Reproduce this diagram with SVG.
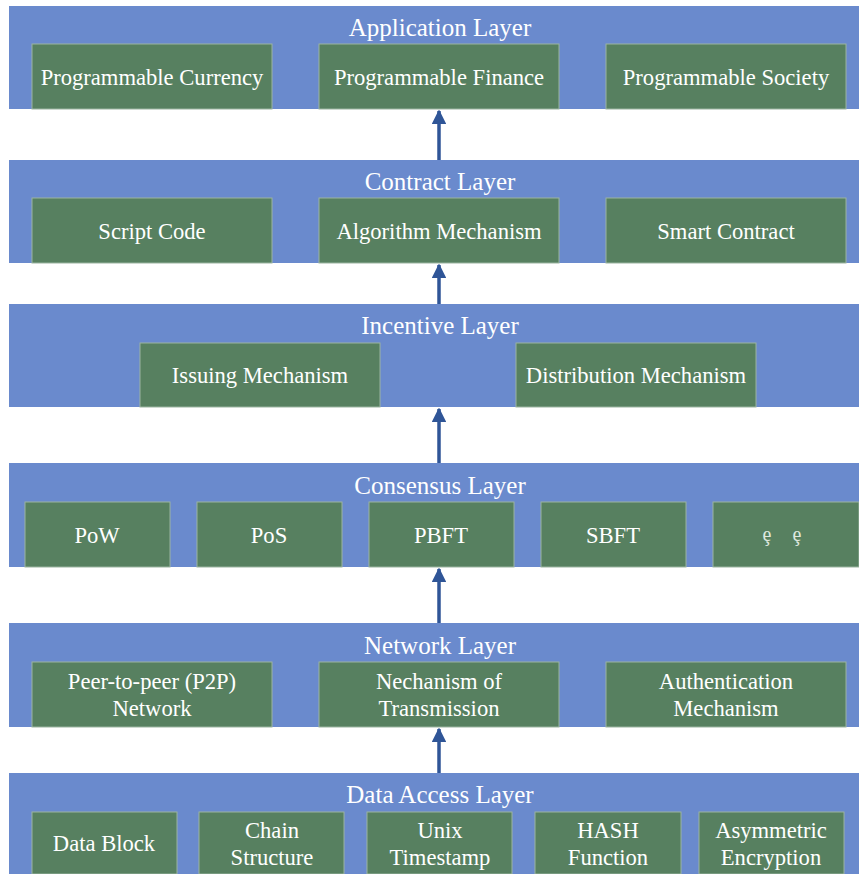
<svg xmlns="http://www.w3.org/2000/svg" width="859" height="874" viewBox="0 0 859 874">
<defs>
<style>
.layer{fill:#6a8acd;}
.box{fill:#578060;stroke:#9bb4a0;stroke-width:1;}
.title{font-size:25px;fill:#ffffff;text-anchor:middle;}
.t{font-size:22.6px;fill:#ffffff;text-anchor:middle;}
.etc{font-size:20px;fill:#dfe8df;text-anchor:middle;}
.conn{stroke:#2f5597;stroke-width:3.5;fill:none;}
</style>
<marker id="ah" viewBox="0 0 10 10" refX="9" refY="5" markerWidth="4.2" markerHeight="4.2" markerUnits="strokeWidth" orient="auto">
<path d="M0,0 L10,5 L0,10 z" fill="#2f5597"/>
</marker>
</defs>
<rect width="859" height="874" fill="#ffffff"/>
<g font-family="Liberation Serif, Times New Roman, serif">

<g id="application-layer">
<rect class="layer" x="9" y="6" width="850" height="103"/>
<text class="title" x="440" y="36">Application Layer</text>
<g id="programmable-currency"><rect class="box" x="32" y="44" width="240" height="65"/><text class="t" x="152" y="85">Programmable Currency</text></g>
<g id="programmable-finance"><rect class="box" x="319" y="44" width="240" height="65"/><text class="t" x="439" y="85">Programmable Finance</text></g>
<g id="programmable-society"><rect class="box" x="606" y="44" width="240" height="65"/><text class="t" x="726" y="85">Programmable Society</text></g>
</g>

<g id="contract-layer">
<rect class="layer" x="9" y="160" width="850" height="103"/>
<text class="title" x="440" y="190">Contract Layer</text>
<g id="script-code"><rect class="box" x="32" y="198" width="240" height="65"/><text class="t" x="152" y="239">Script Code</text></g>
<g id="algorithm-mechanism"><rect class="box" x="319" y="198" width="240" height="65"/><text class="t" x="439" y="239">Algorithm Mechanism</text></g>
<g id="smart-contract"><rect class="box" x="606" y="198" width="240" height="65"/><text class="t" x="726" y="239">Smart Contract</text></g>
</g>

<g id="incentive-layer">
<rect class="layer" x="9" y="304" width="850" height="103"/>
<text class="title" x="440" y="334">Incentive Layer</text>
<g id="issuing-mechanism"><rect class="box" x="140" y="343" width="240" height="64"/><text class="t" x="260" y="383">Issuing Mechanism</text></g>
<g id="distribution-mechanism"><rect class="box" x="516" y="343" width="240" height="64"/><text class="t" x="636" y="383">Distribution Mechanism</text></g>
</g>

<g id="consensus-layer">
<rect class="layer" x="9" y="463" width="850" height="104"/>
<text class="title" x="440" y="494">Consensus Layer</text>
<g id="pow"><rect class="box" x="25" y="502" width="145" height="65"/><text class="t" x="97" y="543">PoW</text></g>
<g id="pos"><rect class="box" x="197" y="502" width="145" height="65"/><text class="t" x="269" y="543">PoS</text></g>
<g id="pbft"><rect class="box" x="369" y="502" width="145" height="65"/><text class="t" x="441" y="543">PBFT</text></g>
<g id="sbft"><rect class="box" x="541" y="502" width="145" height="65"/><text class="t" x="613" y="543">SBFT</text></g>
<g id="etc"><rect class="box" x="713" y="502" width="146" height="65"/><text class="etc" y="541"><tspan x="767">ȩ</tspan><tspan x="797">ȩ</tspan></text></g>
</g>

<g id="network-layer">
<rect class="layer" x="9" y="623" width="850" height="104"/>
<text class="title" x="440" y="654">Network Layer</text>
<g id="p2p-network"><rect class="box" x="32" y="662" width="240" height="65"/><text class="t" x="152" y="689">Peer-to-peer (P2P)</text><text class="t" x="152" y="716">Network</text></g>
<g id="transmission"><rect class="box" x="319" y="662" width="240" height="65"/><text class="t" x="439" y="689">Nechanism of</text><text class="t" x="439" y="716">Transmission</text></g>
<g id="authentication"><rect class="box" x="606" y="662" width="240" height="65"/><text class="t" x="726" y="689">Authentication</text><text class="t" x="726" y="716">Mechanism</text></g>
</g>

<g id="data-access-layer">
<rect class="layer" x="9" y="773" width="850" height="101"/>
<text class="title" x="440" y="803">Data Access Layer</text>
<g id="data-block"><rect class="box" x="32" y="812" width="145" height="62"/><text class="t" x="104" y="851">Data Block</text></g>
<g id="chain-structure"><rect class="box" x="199" y="812" width="145" height="62"/><text class="t" x="272" y="838">Chain</text><text class="t" x="272" y="865">Structure</text></g>
<g id="unix-timestamp"><rect class="box" x="367" y="812" width="145" height="62"/><text class="t" x="440" y="838">Unix</text><text class="t" x="440" y="865">Timestamp</text></g>
<g id="hash-function"><rect class="box" x="535" y="812" width="146" height="62"/><text class="t" x="608" y="838">HASH</text><text class="t" x="608" y="865">Function</text></g>
<g id="asymmetric-encryption"><rect class="box" x="699" y="812" width="145" height="62"/><text class="t" x="771" y="838">Asymmetric</text><text class="t" x="771" y="865">Encryption</text></g>
</g>
</g>

<g id="connectors">
<line class="conn" x1="439" y1="160" x2="439" y2="111" marker-end="url(#ah)"/>
<line class="conn" x1="439" y1="304" x2="439" y2="265" marker-end="url(#ah)"/>
<line class="conn" x1="439" y1="463" x2="439" y2="409" marker-end="url(#ah)"/>
<line class="conn" x1="439" y1="623" x2="439" y2="569" marker-end="url(#ah)"/>
<line class="conn" x1="439" y1="773" x2="439" y2="729" marker-end="url(#ah)"/>
</g>
</svg>
